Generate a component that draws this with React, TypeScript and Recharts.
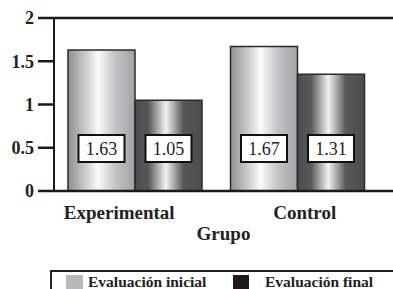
import React from 'react';
import { BarChart, Bar, XAxis, YAxis, ReferenceLine, Legend, LabelList, Label } from 'recharts';

const categories = ['Experimental', 'Control'];
const inicialValues = [1.63, 1.67];
const finalValues = [1.05, 1.35];
const inicialLabels = ['1.63', '1.67'];
const finalLabels = ['1.05', '1.31'];
const yTicks = [0, 0.5, 1, 1.5, 2];
const seriesNames = ['Evaluación inicial', 'Evaluación final'];
const axisTitle = 'Grupo';

const data = categories.map((c, i) => ({
  grupo: c,
  inicial: inicialValues[i],
  final: finalValues[i],
  inicialLabel: inicialLabels[i],
  finalLabel: finalLabels[i],
}));

const FONT = '"Liberation Serif"';
const tickDx = [-16, 7];

const XTick = (props: any) => {
  const { x, y, payload, index } = props;
  return (
    <text x={x + (tickDx[index] || 0)} y={y + 20} textAnchor="middle" style={{ fontFamily: FONT, fontWeight: 'bold', fontSize: 19 }} fill="#222">
      {payload.value}
    </text>
  );
};

const ValueBox = (props: any) => {
  const { x, y, width, height, value } = props;
  const cx = x + width / 2;
  const bottom = y + height;
  const bw = 46;
  const bh = 27;
  return (
    <g>
      <rect x={cx - bw / 2} y={bottom - 56} width={bw} height={bh} fill="#fff" stroke="#111" strokeWidth={2} />
      <text x={cx} y={bottom - 36.5} textAnchor="middle" style={{ fontFamily: FONT, fontSize: 18 }} fill="#222">
        {value}
      </text>
    </g>
  );
};

const LegendContent = () => (
  <div
    style={{
      marginLeft: 50,
      height: 19,
      borderLeft: '2px solid #222',
      borderTop: '2px solid #222',
      boxSizing: 'border-box',
      position: 'relative',
      fontFamily: FONT,
      fontWeight: 'bold',
      fontSize: 15.5,
      color: '#222',
    }}
  >
    <div style={{ position: 'absolute', left: 14, top: 3, width: 17, height: 14, background: '#b9b9bb' }} />
    <div style={{ position: 'absolute', left: 36, top: 0, whiteSpace: 'nowrap', lineHeight: '19px' }}>{seriesNames[0]}</div>
    <div style={{ position: 'absolute', left: 181, top: 3, width: 16, height: 14, background: '#1e1a1b' }} />
    <div style={{ position: 'absolute', left: 213, top: 0, whiteSpace: 'nowrap', lineHeight: '19px' }}>{seriesNames[1]}</div>
  </div>
);

export default function App() {
  return (
    <div style={{ position: 'absolute', left: 0, top: 0, width: 393, height: 289, background: '#fff', fontFamily: FONT }}>
      <BarChart width={393} height={289} data={data} margin={{ top: 18, right: 0, left: 0, bottom: 0 }} barGap={0} barSize={67}>
        <defs>
          <linearGradient id="gLight" x1="0" y1="0" x2="1" y2="0">
            <stop offset="0%" stopColor="#8f8f91" />
            <stop offset="20%" stopColor="#bdbdbf" />
            <stop offset="45%" stopColor="#fafafa" />
            <stop offset="70%" stopColor="#c4c4c6" />
            <stop offset="100%" stopColor="#a2a2a4" />
          </linearGradient>
          <linearGradient id="gDark" x1="0" y1="0" x2="1" y2="0">
            <stop offset="0%" stopColor="#4c4c4e" />
            <stop offset="20%" stopColor="#58585a" />
            <stop offset="46%" stopColor="#f2f2f2" />
            <stop offset="72%" stopColor="#58585a" />
            <stop offset="100%" stopColor="#4c4c4e" />
          </linearGradient>
        </defs>
        <XAxis
          dataKey="grupo"
          height={79}
          padding={{ left: 0, right: 14 }}
          tickLine={false}
          axisLine={{ stroke: '#1a1a1a', strokeWidth: 2.5 }}
          tick={<XTick />}
        >
          <Label value={axisTitle} position="insideBottom" offset={30} style={{ fontFamily: FONT, fontWeight: 'bold', fontSize: 19 }} fill="#222" />
        </XAxis>
        <YAxis
          width={54}
          domain={[0, 2]}
          ticks={yTicks}
          interval={0}
          tickSize={16}
          tickMargin={4}
          tickLine={{ stroke: '#1a1a1a', strokeWidth: 2.5 }}
          axisLine={{ stroke: '#1a1a1a', strokeWidth: 2 }}
          tick={{ style: { fontFamily: FONT, fontWeight: 'bold', fontSize: 18 }, fill: '#222' }}
        />
        <ReferenceLine y={2} stroke="#1a1a1a" strokeWidth={2.5} />
        <Legend verticalAlign="bottom" height={19} wrapperStyle={{ left: 0, width: 393, bottom: 0 }} content={<LegendContent />} />
        <Bar dataKey="inicial" name={seriesNames[0]} fill="url(#gLight)" stroke="#2a2a2a" strokeWidth={1.5} isAnimationActive={false}>
          <LabelList dataKey="inicialLabel" content={<ValueBox />} />
        </Bar>
        <Bar dataKey="final" name={seriesNames[1]} fill="url(#gDark)" stroke="#2a2a2a" strokeWidth={1.5} isAnimationActive={false}>
          <LabelList dataKey="finalLabel" content={<ValueBox />} />
        </Bar>
      </BarChart>
    </div>
  );
}
